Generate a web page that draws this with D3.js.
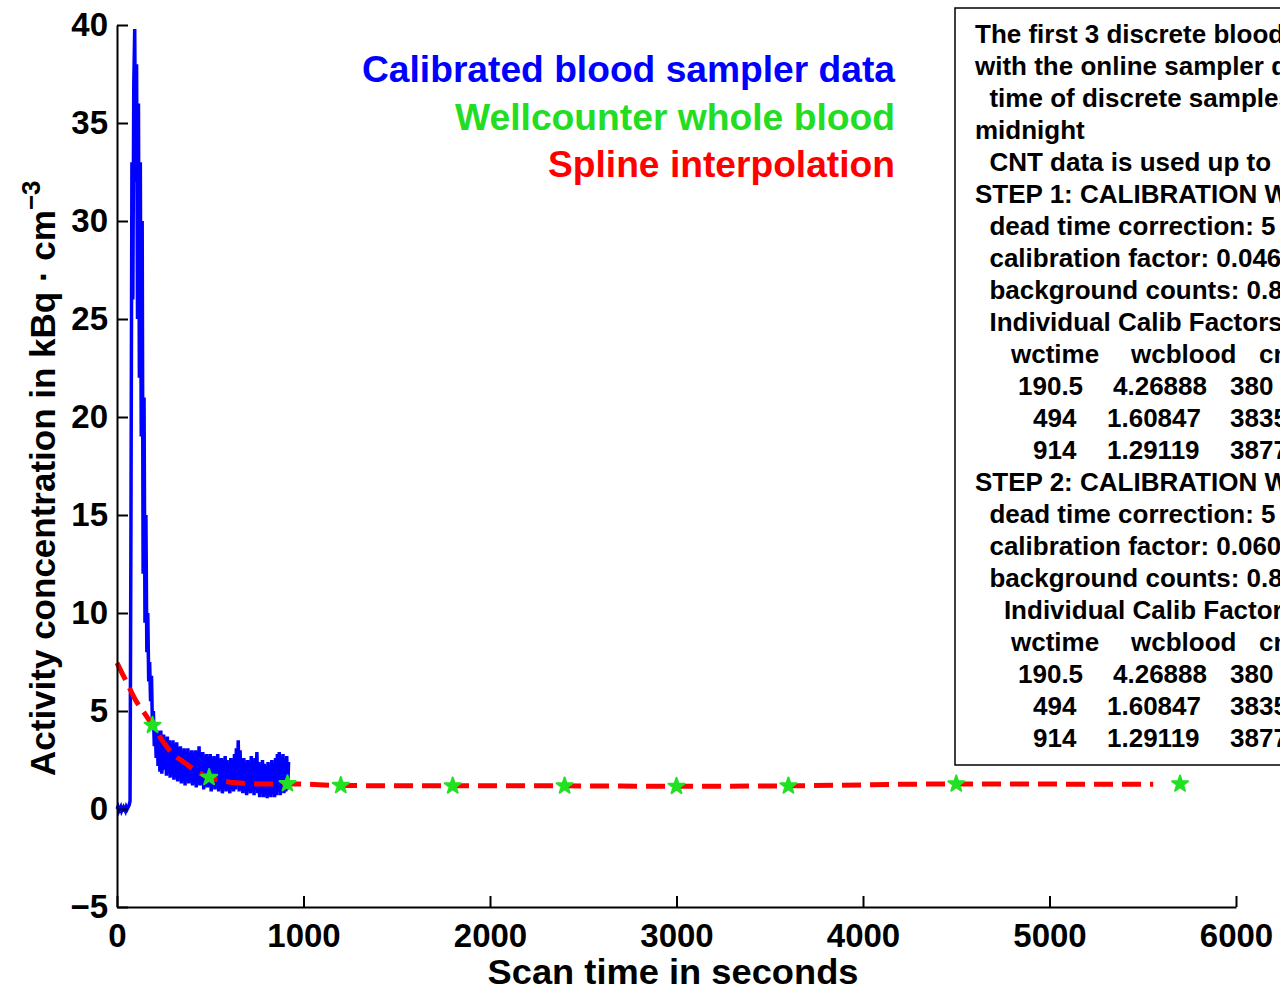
<!DOCTYPE html>
<html>
<head>
<meta charset="utf-8">
<script src="https://cdn.jsdelivr.net/npm/d3@7/dist/d3.min.js"></script>
<style>
  html, body { margin: 0; padding: 0; background: #fff; }
  svg { display: block; }
  text { font-family: "Liberation Sans", Arial, Helvetica, sans-serif; font-weight: bold; }
</style>
</head>
<body>
<svg id="chart" width="1280" height="991"></svg>
<script>
// ---------------- DATA ----------------
// Calibrated blood sampler data: [time s, kBq/cc]
const bloodSampler = [
  [0,0.0],[5,0.1],[10,-0.1],[15,0.0],[20,0.1],[25,-0.1],[30,0.0],[35,0.1],[40,0.0],[45,-0.1],
  [50,0.1],[55,0.0],[60,0.1],[65,0.2],
  [70,0.4],[75,15],[80,33],[85,26],[90,37],[95,39.8],[100,32],[105,38],[110,25],[115,36],
  [120,22],[125,33],[130,19],[135,30],[140,12],[145,21],[150,9.5],[155,15],[160,8],[165,10],
  [170,6.5],[175,7.5],[180,5.5],[185,6.8],[190,4.2],[195,5.0],[200,3.2],[205,4.3],[210,2.6],
  [215,4.0],[220,2.2],[225,3.9],[230,1.9],[235,4.0],[240,1.8],
  [245,2.4],[250,3.8],[255,2.0],[260,3.5],[265,1.7],[270,3.7],[275,2.2],[280,3.5],[285,1.6],
  [290,3.3],[295,2.0],[300,3.5],[305,1.5],[310,3.1],[315,1.8],[320,3.4],[325,1.4],[330,3.0],
  [335,1.9],[340,3.2],[345,1.3],[350,2.9],[355,1.6],[360,3.1],[365,1.2],[370,2.8],[375,1.7],
  [380,3.1],[385,1.3],[390,2.7],[395,1.5],[400,3.0],[405,1.2],[410,2.6],[415,1.6],[420,3.0],
  [425,1.1],[430,2.7],[435,1.4],[440,3.2],[445,1.2],[450,2.5],[455,1.5],[460,2.9],[465,1.0],
  [470,2.6],[475,1.3],[480,2.8],[485,1.1],[490,2.4],[495,1.4],[500,2.8],[505,0.9],[510,2.5],
  [515,1.2],[520,2.7],[525,1.0],[530,2.3],[535,1.3],[540,2.8],[545,0.9],[550,2.4],[555,1.1],
  [560,2.6],[565,0.8],[570,2.2],[575,1.2],[580,2.7],[585,0.9],[590,2.5],[595,1.0],[600,2.3],
  [605,0.8],[610,2.6],[615,1.1],[620,2.2],[625,0.9],[630,2.8],[635,1.0],[640,3.1],[645,1.2],
  [650,3.5],[655,0.9],[660,3.0],[665,1.1],[670,2.4],[675,0.8],[680,2.6],[685,1.0],[690,2.3],
  [695,0.7],[700,2.5],[705,1.0],[710,2.2],[715,0.8],[720,2.7],[725,0.9],[730,2.4],[735,0.7],
  [740,2.6],[745,1.0],[750,2.9],[755,0.8],[760,2.4],[765,0.6],[770,2.2],[775,0.9],[780,2.5],
  [785,0.6],[790,2.3],[795,0.8],[800,2.1],[805,0.55],[810,2.4],[815,0.7],[820,2.2],[825,0.6],
  [830,2.5],[835,0.8],[840,2.3],[845,0.6],[850,2.6],[855,0.7],[860,2.8],[865,0.9],[870,2.9],
  [875,0.7],[880,2.6],[885,1.0],[890,2.8],[895,0.8],[900,2.5],[905,0.9],[910,2.7],[915,1.0],
  [920,2.4]
];

// Wellcounter whole blood samples
const wcTime  = [190.5, 494, 914, 1200, 1800, 2400, 3000, 3600, 4500, 5700];
const wcBlood = [4.26888, 1.60847, 1.29119, 1.20, 1.18, 1.18, 1.16, 1.18, 1.28, 1.28];

// Spline interpolation knots
const splineTime  = [0, 50, 100, 150, 190.5, 250, 300, 350, 400, 450, 494, 550, 600, 700, 800, 914, 1000, 1200, 1800, 2400, 3000, 3600, 4500, 5000, 5556];
const splineValue = [7.45, 6.5, 5.55, 4.85, 4.27, 3.4, 2.8, 2.45, 2.1, 1.8, 1.61, 1.46, 1.38, 1.3, 1.27, 1.29, 1.27, 1.2, 1.18, 1.18, 1.16, 1.18, 1.28, 1.27, 1.26];

// Axis ticks
const xTicks = [0, 1000, 2000, 3000, 4000, 5000, 6000];
const yTicks = [-5, 0, 5, 10, 15, 20, 25, 30, 35, 40];

// Legend entries
const legendLabels = ["Calibrated blood sampler data", "Wellcounter whole blood", "Spline interpolation"];
const legendColors = ["#0000ff", "#22dd22", "#ff0000"];

// Annotation box text
const noteLines = [
  "The first 3 discrete blood samples",
  "with the online sampler data",
  "  time of discrete samples",
  "midnight",
  "  CNT data is used up to",
  "STEP 1: CALIBRATION WITH",
  "  dead time correction: 5",
  "  calibration factor: 0.046",
  "  background counts: 0.8",
  "  Individual Calib Factors",
  null, null, null, null,
  "STEP 2: CALIBRATION WITH",
  "  dead time correction: 5",
  "  calibration factor: 0.060",
  "  background counts: 0.8",
  "    Individual Calib Factors",
  null, null, null, null
];
const tableHeader = ["wctime", "wcblood", "cnt"];
const tableRows = [
  ["190.5", "4.26888", "380"],
  ["494", "1.60847", "3835"],
  ["914", "1.29119", "3877"]
];

// ---------------- CHART ----------------
const svg = d3.select("#chart");
svg.append("rect").attr("width", 1280).attr("height", 991).attr("fill", "#fff");

const x = d3.scaleLinear().domain([0, 6000]).range([117, 1236]);
const y = d3.scaleLinear().domain([-5, 40]).range([907, 25]);

// Blood sampler line
svg.append("path")
  .datum(bloodSampler)
  .attr("fill", "none")
  .attr("stroke", "#0000ff")
  .attr("stroke-width", 3.5)
  .attr("stroke-linejoin", "miter")
  .attr("d", d3.line().x(d => x(d[0])).y(d => y(d[1])));

// Spline
const splineData = splineTime.map((t, i) => [t, splineValue[i]]);
svg.append("path")
  .datum(splineData)
  .attr("fill", "none")
  .attr("stroke", "#ff0000")
  .attr("stroke-width", 5)
  .attr("stroke-dasharray", "19 9")
  .attr("d", d3.line().curve(d3.curveMonotoneX).x(d => x(d[0])).y(d => y(d[1])));

// Wellcounter markers
svg.append("g").selectAll("path")
  .data(wcTime.map((t, i) => [t, wcBlood[i]]))
  .join("path")
  .attr("transform", d => `translate(${x(d[0])},${y(d[1])})`)
  .attr("d", d3.symbol().type(d3.symbolStar).size(80))
  .attr("fill", "#22e022")
  .attr("stroke", "#22e022")
  .attr("stroke-width", 2)
  .attr("stroke-linejoin", "round");

// Axes
const yAxis = d3.axisLeft(y).tickValues(yTicks).tickSizeInner(-11).tickSizeOuter(0).tickPadding(9)
  .tickFormat(d => d < 0 ? "\u2212" + Math.abs(d) : String(d));
const xAxis = d3.axisBottom(x).tickValues(xTicks).tickSizeInner(-11).tickSizeOuter(0).tickPadding(17)
  .tickFormat(d => String(d));

const gy = svg.append("g").attr("transform", `translate(${x(0)},0)`).call(yAxis);
const gx = svg.append("g").attr("transform", `translate(0,${y(-5)})`).call(xAxis);
[gx, gy].forEach(g => {
  g.select(".domain").attr("stroke", "#000").attr("stroke-width", 2);
  g.selectAll(".tick line").attr("stroke", "#000").attr("stroke-width", 2);
  g.selectAll(".tick text").attr("fill", "#000")
    .style("font-family", "'Liberation Sans', Arial, sans-serif")
    .style("font-weight", "bold").style("font-size", "33px");
});

// Axis titles
svg.append("text")
  .attr("x", 673).attr("y", 984)
  .attr("text-anchor", "middle")
  .style("font-size", "35px")
  .attr("textLength", 371).attr("lengthAdjust", "spacingAndGlyphs")
  .text("Scan time in seconds");

const yl = svg.append("text")
  .attr("transform", "translate(55,776) rotate(-90)")
  .attr("text-anchor", "start")
  .style("font-size", "35px");
yl.append("tspan").text("Activity concentration in kBq \u00B7 cm");
yl.append("tspan").attr("dy", -15).style("font-size", "26px").text("\u22123");

// Legend
legendLabels.forEach((lab, i) => {
  svg.append("text")
    .attr("x", 895).attr("y", 82 + i * 47.5)
    .attr("text-anchor", "end")
    .attr("fill", legendColors[i])
    .style("font-size", "37px")
    .attr("textLength", [533, 440, 347][i]).attr("lengthAdjust", "spacingAndGlyphs")
    .text(lab);
});

// Annotation box
svg.append("rect")
  .attr("x", 955).attr("y", 8).attr("width", 400).attr("height", 757)
  .attr("fill", "#fff").attr("stroke", "#000").attr("stroke-width", 1.5);

const lineH = 32, firstBase = 43;
noteLines.forEach((ln, i) => {
  if (ln === null) return;
  svg.append("text")
    .attr("x", 975).attr("y", firstBase + i * lineH)
    .attr("xml:space", "preserve")
    .style("white-space", "pre")
    .style("font-size", "26px")
    .text(ln);
});
const headerX = [1011, 1131, 1259];
const rowX = [[1018, 1113, 1230], [1033, 1107, 1230], [1033, 1107, 1230]];
[10, 19].forEach(start => {
  tableHeader.forEach((h, j) => {
    svg.append("text").attr("x", headerX[j]).attr("y", firstBase + start * lineH)
      .style("font-size", "26px").text(h);
  });
  tableRows.forEach((row, r) => {
    row.forEach((c, j) => {
      svg.append("text").attr("x", rowX[r][j]).attr("y", firstBase + (start + 1 + r) * lineH)
        .style("font-size", "26px").text(c);
    });
  });
});
</script>
</body>
</html>
